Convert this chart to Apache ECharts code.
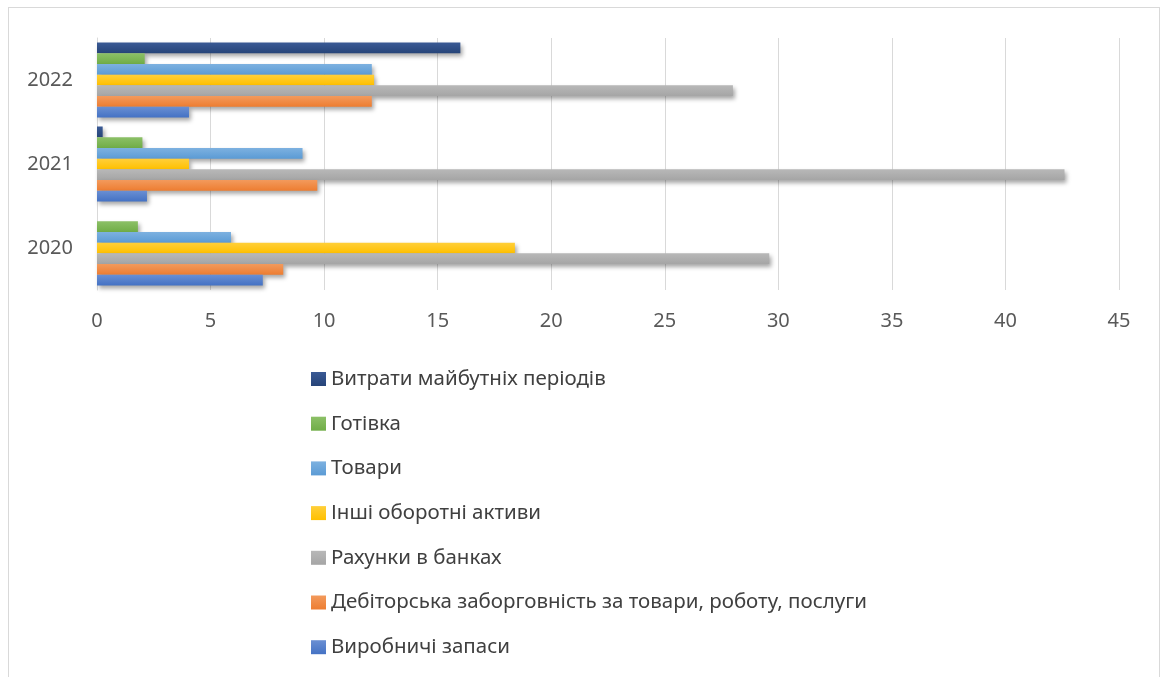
<!DOCTYPE html>
<html>
<head>
<meta charset="utf-8">
<script src="https://cdn.jsdelivr.net/npm/echarts@6/dist/echarts.min.js"></script>
<style>
  html, body { margin: 0; padding: 0; background: #fff; }
  #frame { position: absolute; left: 8px; top: 7px; width: 1150px; height: 690px; border: 1px solid #d9d9d9; }
  #container { position: absolute; left: 0; top: 0; width: 1160px; height: 677px; }
</style>
</head>
<body>
<div id="frame"></div>
<div id="container"></div>
<script>
var dom = document.getElementById('container');
var myChart = echarts.init(dom, null, { renderer: 'canvas' });

// categories (bottom to top)
var years = ['2020', '2021', '2022'];

// series values per year: 2020, 2021, 2022
var vytraty = [0, 0.25, 16.0];
var gotivka = [1.8, 2.0, 2.1];
var tovary = [5.9, 9.05, 12.1];
var inshiAktyvy = [18.4, 4.05, 12.2];
var rakhunky = [29.6, 42.6, 28.0];
var debitorska = [8.2, 9.7, 12.1];
var vyrobnychiZapasy = [7.3, 2.2, 4.05];

// top of each group first (same order as the legend)
var names = [
    'Витрати майбутніх періодів',
    'Готівка',
    'Товари',
    'Інші оборотні активи',
    'Рахунки в банках',
    'Дебіторська заборговність за товари, роботу, послуги',
    'Виробничі запаси'
];
var values = [vytraty, gotivka, tovary, inshiAktyvy, rakhunky, debitorska, vyrobnychiZapasy];
var colors = ['#264478', '#70AD47', '#5B9BD5', '#FFC000', '#A5A5A5', '#ED7D31', '#4472C4'];
var lightColors = ['#3a5a95', '#8cc067', '#7db1e0', '#ffcf3a', '#b8b8b8', '#f39a5c', '#6a8fd3'];

var xTicks = [0, 5, 10, 15, 20, 25, 30, 35, 40, 45];

var series = names.map(function (n, i) {
    return {
        name: n,
        type: 'bar',
        barGap: '0%',
        barCategoryGap: '11%',
        itemStyle: {
            color: new echarts.graphic.LinearGradient(0, 0, 0, 1, [
                { offset: 0, color: lightColors[i] },
                { offset: 1, color: colors[i] }
            ]),
            shadowColor: 'rgba(0,0,0,0.35)',
            shadowBlur: 4,
            shadowOffsetX: 2,
            shadowOffsetY: 3
        },
        data: values[i]
    };
});

var option = {
    backgroundColor: 'transparent',
    color: colors,
    grid: { left: 97, right: 41, top: 38, bottom: 387, containLabel: false },
    legend: {
        orient: 'vertical',
        left: 306,
        top: 362,
        itemWidth: 15,
        itemHeight: 14,
        itemGap: 20.7,
        icon: 'rect',
        data: names,
        textStyle: { color: '#404040', fontSize: 20.5, lineHeight: 24, fontFamily: 'Noto Sans' }
    },
    xAxis: {
        type: 'value',
        min: xTicks[0],
        max: xTicks[xTicks.length - 1],
        interval: 5,
        axisLine: { show: false },
        axisTick: { show: false },
        axisLabel: { color: '#595959', fontSize: 20, margin: 21, fontFamily: 'Noto Sans' },
        splitLine: { lineStyle: { color: '#d9d9d9', width: 1 } }
    },
    yAxis: {
        type: 'category',
        data: years,
        axisLine: { show: true, lineStyle: { color: '#d9d9d9' } },
        axisTick: { show: false },
        axisLabel: { color: '#595959', fontSize: 20, margin: 24, fontFamily: 'Noto Sans' }
    },
    series: series
};

myChart.setOption(option);
window.addEventListener('resize', myChart.resize);
</script>
</body>
</html>
